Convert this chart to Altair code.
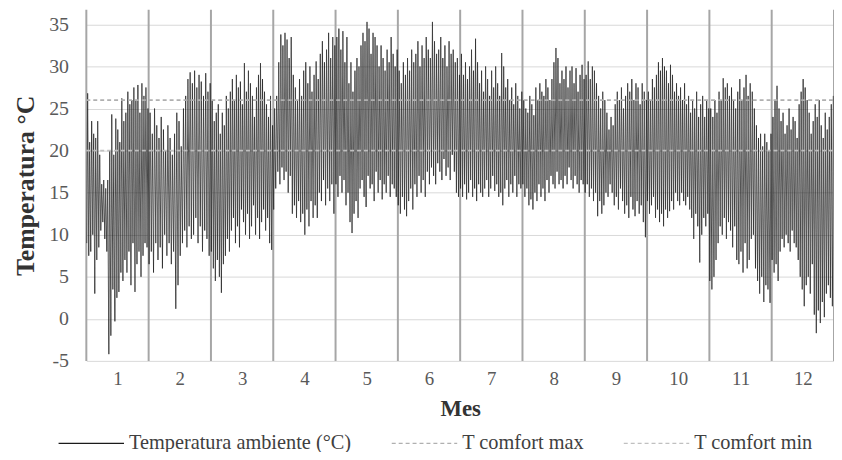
import altair as alt
import pandas as pd

SERIES = ["Temperatura ambiente (°C)", "T comfort max", "T comfort min"]
MONTH_LABELS = [1, 2, 3, 4, 5, 6, 7, 8, 9, 10, 11, 12]
Y_TICKS = [-5, 0, 5, 10, 15, 20, 25, 30, 35]
COMFORT_MAX = 26
COMFORT_MIN = 20

# daily maxima / minima, one list per month
max_jan = [26.8, 21, 23.5, 22, 21.5, 23.5, 19.5, 16, 16.5, 15.5, 16.5, 20, 24.3, 19.5, 23.8, 22.5, 21, 26.2, 23.5, 24.5, 27, 25.5, 26, 27.5, 26, 27.8, 24.5, 28, 26.5, 27.5, 25]
min_jan = [9, 7.5, 8, 10, 3, 7, 8.5, 10.5, 11.5, 9.5, 8, -4.2, -2, 3.5, -0.3, 2.5, 3.2, 5.5, 4.5, 7, 5.5, 8, 4, 9, 3.2, 6.5, 8, 5, 7.5, 9, 8.5]
max_feb = [24.5, 22, 25, 23, 21.5, 24, 22.5, 20, 23, 21.5, 19.5, 22, 24.5, 23.5, 20.5, 25, 26.5, 28.5, 29.3, 28, 29.5, 27.5, 29, 28.2, 26.5, 29.2, 27, 28]
min_feb = [6.5, 8, 5.5, 9, 7, 8.5, 6, 10, 7.5, 9, 6.5, 8, 1.2, 4, 7.5, 9, 10.5, 8.5, 11, 9.5, 10, 12, 9, 11, 8, 10.5, 9.5, 7.5]
max_mar = [26, 23.5, 24.5, 25.5, 22, 24.5, 23, 26.5, 25, 27, 28.5, 26, 29, 27.5, 28.2, 25.5, 30.4, 27, 29.5, 28, 26.5, 24, 27.5, 29, 30.4, 28.5, 27, 25.5, 24, 26.5, 23]
min_mar = [8, 6, 4.5, 7, 5, 3.1, 6.5, 7.5, 9.5, 8, 10.5, 12, 9, 11, 8.5, 13, 11.5, 10, 12.5, 9.5, 11, 13.5, 10, 12, 9.5, 11.5, 13, 10.5, 12, 9, 8.2]
max_apr = [25, 26.5, 30.5, 33.8, 32.5, 34, 33.2, 31, 33.5, 29, 27.5, 26, 28.5, 26.5, 29.5, 30.5, 28, 30, 27, 29, 30.6, 28.5, 31.5, 33, 30.5, 32, 34, 31, 33.5, 32.5]
min_apr = [13, 15.5, 17.5, 16, 18, 16.5, 17.5, 15, 17, 12.5, 13.5, 12, 14, 11.5, 12.5, 10, 13, 11, 14, 12, 13.5, 12, 15, 14, 16.5, 13.5, 15.5, 14, 16, 12.5]
max_may = [33.5, 34.5, 32, 34.2, 30.5, 33.5, 28, 30.5, 27, 29.5, 31, 30, 32.5, 34, 33, 35.3, 34.5, 31.5, 34, 33.5, 32.5, 30, 32.5, 31, 29.5, 32, 30.5, 33.5, 31.5, 30, 32]
min_may = [16, 14.5, 17, 15, 16.5, 13.5, 15, 11.5, 10.2, 12.5, 14, 12, 15.5, 16.5, 14.5, 13.3, 17, 15.5, 16, 14, 17.5, 15, 16.5, 14.2, 16, 15, 17, 14.5, 16, 15.5, 14.5]
max_jun = [29.5, 28, 30.5, 29, 31, 29.5, 32, 30.5, 31.5, 33, 30, 32.5, 31, 33.5, 32, 31, 35.3, 33, 31.5, 32, 33.5, 31, 32.5, 30, 33, 31.5, 32, 30.5, 31, 29]
min_jun = [13.5, 12.5, 14.5, 13, 12.2, 14, 15.5, 13, 16, 14.5, 17, 15, 16.5, 14.5, 17.5, 16, 18, 17, 16, 18.5, 17.5, 16.5, 19, 17, 18, 16.5, 19.5, 17.5, 15, 14.5]
max_jul = [31.5, 29, 30.5, 28.5, 30, 32, 29.5, 33.3, 30.5, 28, 29.5, 27, 30, 28.5, 26.5, 29.5, 27.5, 30, 28, 26.5, 31.6, 30, 27.5, 28.5, 26, 27.5, 25.5, 28, 26.5, 25, 27]
min_jul = [15.5, 14.5, 16, 14.2, 15, 16.5, 14.5, 15.5, 14, 16, 15, 14.5, 15.5, 16.5, 14.5, 15.5, 17, 15.2, 16, 14.5, 15, 13.5, 15.5, 16.5, 14.5, 16, 15, 17, 14.5, 16, 15.5]
max_aug = [26, 25, 24.5, 26.5, 25.5, 24.2, 27.5, 26, 28, 27, 26.5, 28.5, 27.5, 26, 28.5, 30.5, 32.2, 31, 28, 29.5, 28.5, 30, 27.5, 29.5, 30, 28, 29.8, 27, 29, 30.2, 28.5]
min_aug = [16, 14.5, 15.5, 13.5, 14.2, 13, 15, 14, 16, 14.5, 15.5, 14, 16.5, 15, 17, 16, 15.5, 17.5, 16, 16.5, 15.5, 17, 16, 18, 16.5, 15.5, 17, 16, 15, 16.5, 16]
max_sep = [29, 30.6, 28.5, 30, 29.5, 28, 26.5, 25, 27, 26, 24.5, 22.5, 24, 23, 25.5, 27, 26, 27.5, 25, 26.5, 28, 27, 28.5, 26, 28, 27.5, 25.5, 28, 27, 26]
min_sep = [15, 16, 14.5, 15.5, 14, 15, 12.2, 14, 12.5, 13.5, 15, 14.5, 16, 15, 13.5, 14.5, 13, 15.5, 14, 12.5, 13.5, 12, 14.5, 13, 12.2, 14, 12.5, 13.5, 11.5, 9.7]
max_oct = [27, 26, 28.5, 27.5, 29, 30.5, 29.5, 31, 30, 29.5, 28, 30.2, 29, 27, 28, 26.5, 27.5, 26, 28, 25.5, 26.5, 24.5, 26, 25, 27, 24, 25.5, 26.5, 24, 26, 25]
min_oct = [14, 12.5, 13.5, 14.5, 12, 13, 11.5, 12.5, 11, 13, 12, 12.8, 14, 13, 15, 14, 13.5, 15, 14, 13.5, 14.5, 13, 12, 9.5, 12.5, 11, 6.7, 10, 12, 11, 12.5]
max_nov = [25, 24, 26, 24.5, 27, 26, 28.6, 27.5, 28, 26.5, 27.5, 26, 25, 27, 28.5, 26, 27.5, 29, 26.5, 28, 27, 25, 23, 21.5, 22, 20.5, 22, 21, 20, 22]
min_nov = [4.5, 3.5, 5, 7, 9, 11, 10, 12, 9.5, 11.5, 10.5, 8.5, 11, 7, 6.5, 8, 5.5, 9, 6, 7, 9.5, 10, 6, 4.5, 3, 5, 2, 4, 3.5, 1.9]
max_dec = [24, 26, 27.7, 25, 23.5, 24.5, 22, 23, 25, 22.5, 24, 23.5, 21.5, 25.5, 27, 28.5, 27.5, 26, 24.5, 22, 23.5, 25.5, 24, 26, 23, 21.5, 24.5, 22.5, 24, 25.5, 26.5]
min_dec = [7, 5.5, 6.5, 4.5, 8, 9.5, 8.5, 10, 9, 8, 10.5, 9, 8.5, 7, 5, 3.5, 1.5, 4, 5, 3, 6.5, 0.5, -1.7, 1, -0.5, 2, 0.2, 3, 4, 2.5, 1.5]

MAXIMA = [max_jan, max_feb, max_mar, max_apr, max_may, max_jun,
          max_jul, max_aug, max_sep, max_oct, max_nov, max_dec]
MINIMA = [min_jan, min_feb, min_mar, min_apr, min_may, min_jun,
          min_jul, min_aug, min_sep, min_oct, min_nov, min_dec]

rows = []
for m, (mx, mn) in enumerate(zip(MAXIMA, MINIMA)):
    nd = len(mx)
    for d in range(nd):
        rows.append({"x": m + (d + 0.2) / nd, "t": mn[d], "serie": SERIES[0]})
        rows.append({"x": m + (d + 0.65) / nd, "t": mx[d], "serie": SERIES[0]})
temp_df = pd.DataFrame(rows)

comfort_df = pd.DataFrame({
    "x": [0, 12, 0, 12],
    "t": [COMFORT_MAX, COMFORT_MAX, COMFORT_MIN, COMFORT_MIN],
    "serie": [SERIES[1], SERIES[1], SERIES[2], SERIES[2]],
})
div_df = pd.DataFrame({"x": list(range(0, 13))})

FONT = "Liberation Serif"
W, H = 754, 354

xscale = alt.Scale(domain=[0, 12], nice=False, zero=False)
yscale = alt.Scale(domain=[-5, 36.73], nice=False, zero=False)

legend = alt.Legend(
    title=None, orient="none", direction="horizontal",
    legendX=-29, legendY=403,
    symbolType="stroke", symbolSize=4356, symbolStrokeWidth=1.3,
    labelFont=FONT, labelFontSize=20.5, labelColor="#404040",
    labelLimit=400, columnPadding=37, symbolOffset=0, labelOffset=4,
)
color_enc = alt.Color("serie:N", scale=alt.Scale(domain=SERIES, range=["#1a1a1a", "#b0b0b0", "#c0c0c0"]), legend=legend)
dash_enc = alt.StrokeDash("serie:N", scale=alt.Scale(domain=SERIES, range=[[1, 0], [4, 3], [4, 3]]), legend=legend)

x_axis = alt.Axis(
    values=[m - 0.5 for m in MONTH_LABELS],
    labelExpr="round(datum.value + 0.5)",
    grid=False, ticks=False, domain=False,
    labelFont=FONT, labelFontSize=19, labelColor="#595959", labelPadding=9,
    title="Mes", titleFont=FONT, titleFontSize=23, titleFontWeight="bold",
    titleColor="#333333", titlePadding=9,
)
y_axis = alt.Axis(
    values=Y_TICKS, labelExpr="'' + datum.value",
    grid=True, gridColor="#d9d9d9", gridWidth=1,
    ticks=False, domain=False,
    labelFont=FONT, labelFontSize=20, labelColor="#595959", labelPadding=18,
    title="Temperatura °C", titleFont=FONT, titleFontSize=26, titleFontWeight="bold",
    titleColor="#333333", titlePadding=10,
)

dividers = alt.Chart(div_df).mark_rule(color="#a6a6a6", strokeWidth=2).encode(
    x=alt.X("x:Q", scale=xscale, axis=x_axis),
)

temp_line = alt.Chart(temp_df).mark_line(strokeWidth=0.75).encode(
    x=alt.X("x:Q", scale=xscale, axis=x_axis),
    y=alt.Y("t:Q", scale=yscale, axis=y_axis),
    color=color_enc,
    strokeDash=dash_enc,
    order="x:Q",
)

comfort = alt.Chart(comfort_df).mark_line(strokeWidth=1.6).encode(
    x=alt.X("x:Q", scale=xscale, axis=x_axis),
    y=alt.Y("t:Q", scale=yscale, axis=y_axis),
    color=color_enc,
    strokeDash=dash_enc,
    detail="serie:N",
)

chart = alt.layer(dividers, temp_line, comfort).properties(
    width=W, height=H,
    autosize=alt.AutoSizeParams(type="none"),
    padding={"left": 79, "top": 0, "right": 0, "bottom": 90},
    background="white",
).configure_view(stroke=None)

chart.save("out.html", embed_options={"renderer": "svg", "actions": False})
